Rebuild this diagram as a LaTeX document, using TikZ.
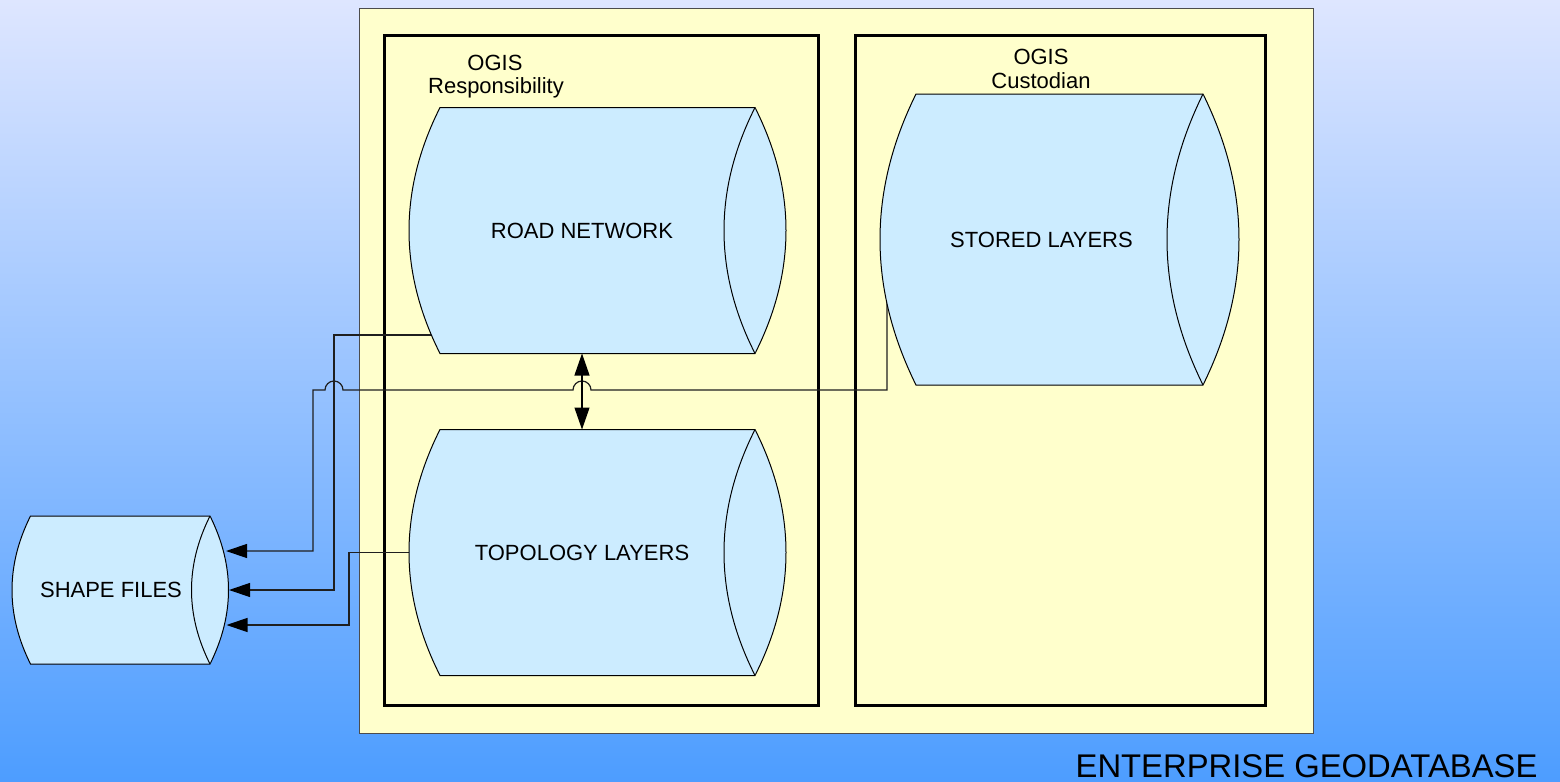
\documentclass[tikz,border=0pt]{standalone}
\usepackage{fontspec}
\setmainfont{Liberation Sans}
\usetikzlibrary{arrows.meta,calc}
\pgfdeclarelayer{bg}
\pgfdeclarelayer{conn}
\pgfdeclarelayer{cyl}
\pgfsetlayers{bg,conn,cyl,main}
\definecolor{bgtop}{RGB}{222,230,255}
\definecolor{bgbot}{RGB}{77,157,255}
\definecolor{paleyellow}{RGB}{255,255,204}
\definecolor{cylblue}{RGB}{204,236,255}
% #1 node name, #2 bulge of the end curves, #3 unused half height
\newcommand\drawcyl[3]{%
  \path ([xshift=#2]#1.north west) coordinate (#1-tl)
        ([xshift=#2]#1.south west) coordinate (#1-bl)
        ([xshift=-#2]#1.west) coordinate (#1-ql)
        (#1.north east) coordinate (#1-tr)
        (#1.south east) coordinate (#1-br)
        ([xshift=2*#2]#1.east) coordinate (#1-qr)
        ([xshift=-2*#2]#1.east) coordinate (#1-qi);
  \filldraw[cylshape] (#1-tl) -- (#1-tr)
    .. controls ($(#1-tr)!2/3!(#1-qr)$) and ($(#1-br)!2/3!(#1-qr)$) .. (#1-br)
    -- (#1-bl)
    .. controls ($(#1-bl)!2/3!(#1-ql)$) and ($(#1-tl)!2/3!(#1-ql)$) .. (#1-tl) -- cycle;
  \draw[cylshape] (#1-tr)
    .. controls ($(#1-tr)!2/3!(#1-qi)$) and ($(#1-br)!2/3!(#1-qi)$) .. (#1-br);
}
\tikzset{
  cylshape/.style={fill=cylblue,draw=black,line width=0.5pt},
  cylnode/.style={inner sep=0pt,outer sep=0pt,font=\fontsize{11}{13}\selectfont},
  frame/.style={draw=black,line width=1.5pt},
  conn/.style={draw=black!88,line width=0.6pt},
  tip/.style={-{Triangle[length=10.5pt,width=7pt,color=black]}},
  lbl/.style={font=\fontsize{11}{13}\selectfont,inner sep=0pt,anchor=base},
}
\begin{document}
\begin{tikzpicture}[x=0.5pt,y=-0.5pt]
\useasboundingbox (0,0) rectangle (1560,782);
\begin{pgfonlayer}{bg}
  \shade[top color=bgtop,bottom color=bgbot] (0,0) rectangle (1560,782);
  \filldraw[fill=paleyellow,draw=black!70,line width=0.5pt] (359,8) rectangle (1313,733);
  \draw[frame] (384,35) rectangle (818,705);
  \draw[frame] (855,35) rectangle (1265,705);
\end{pgfonlayer}

% cylinder nodes (text area from back edge to front ellipse centre)
\node[cylnode,minimum width=173pt,minimum height=123pt] (road) at (582,230.5) {ROAD NETWORK};
\node[cylnode,minimum width=173pt,minimum height=123pt] (topo) at (582,552.5) {TOPOLOGY LAYERS};
\node[cylnode,minimum width=161.5pt,minimum height=145.5pt] (stored) at (1041.5,239.5) {STORED LAYERS};
\node[cylnode,minimum width=99pt,minimum height=74pt] (shape) at (111,590) {SHAPE FILES};

\begin{pgfonlayer}{cyl}
  \drawcyl{road}{15.5pt}{61.5pt}
  \drawcyl{topo}{15.5pt}{61.5pt}
  \drawcyl{stored}{18pt}{72.75pt}
  \drawcyl{shape}{9.25pt}{37pt}
\end{pgfonlayer}

% labels
\node[lbl] (ogisA) at (495,70) {OGIS};
\node[lbl] (respA) at (496,93) {Responsibility};
\node[lbl] (ogisB) at (1041,64) {OGIS};
\node[lbl] (custB) at (1041,88) {Custodian};
\node[font=\fontsize{16.4}{19}\selectfont,inner sep=0pt] (egdb) at (1306.5,766) {ENTERPRISE GEODATABASE};

% connectors
\begin{pgfonlayer}{conn}
  \draw[conn,tip] ($(stored.west)+(7,0)$) |- (591,390)
     arc[start angle=0,end angle=180,radius=4.5pt] -- (343,390)
     arc[start angle=0,end angle=180,radius=4.5pt] -- (313,390)
     |- ($(shape.east)+(16,-39)$);
  \draw[conn,tip] ($(road.west)+(36,104.5)$) -| (334,590) -- ($(shape.east)+(19,0)$);
  \draw[conn,tip] (topo.west) -| (349,625) -- ($(shape.east)+(16.5,35)$);
\end{pgfonlayer}
\draw[{Triangle[length=11pt,width=7.5pt]}-{Triangle[length=11pt,width=7.5pt]},line width=0.6pt] (road.south) -- (topo.north);
\end{tikzpicture}
\end{document}
